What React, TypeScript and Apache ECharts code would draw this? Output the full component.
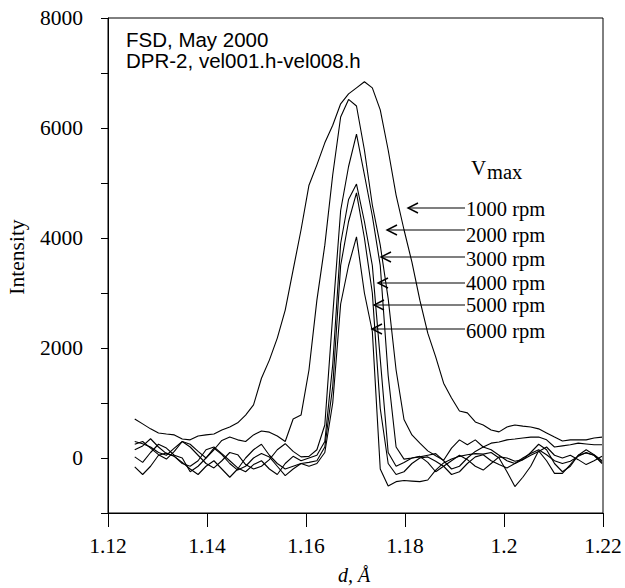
import React, { useEffect, useRef } from "react";
import * as echarts from "echarts";

// d-spacing grid (Å)
const dSpacing = [
  1.1254, 1.127, 1.1286, 1.1302, 1.1318, 1.1334, 1.135, 1.1366, 1.1382, 1.1398,
  1.1414, 1.143, 1.1446, 1.1462, 1.1478, 1.1494, 1.151, 1.1526, 1.1542, 1.1558,
  1.1574, 1.159, 1.1606, 1.1622, 1.1638, 1.1654, 1.167, 1.1686, 1.1702, 1.1718,
  1.1734, 1.175, 1.1766, 1.1782, 1.1798, 1.1814, 1.183, 1.1846, 1.1862, 1.1878,
  1.1894, 1.191, 1.1926, 1.1942, 1.1958, 1.1974, 1.199, 1.2006, 1.2022, 1.2038,
  1.2054, 1.207, 1.2086, 1.2102, 1.2118, 1.2134, 1.215, 1.2166, 1.2182, 1.2198,
];

const intensity1000 = [
  710, 620, 530, 455, 435, 420, 345, 330, 400, 420,
  435, 510, 565, 640, 780, 965, 1450, 1780, 2180, 2690,
  3420, 4150, 4960, 5330, 5730, 6050, 6440, 6620, 6730, 6840,
  6730, 6330, 5600, 4780, 4150, 3560, 2870, 2270, 1840, 1360,
  1090, 855, 820, 655, 600, 510, 475, 565, 600, 580,
  565, 530, 455, 380, 310, 330, 330, 330, 365, 380,
];
const intensity2000 = [
  300, 260, 200, 100, 50, 180, 300, 250, 120, 0,
  150, 320, 380, 330, 300, 420, 490, 470, 400, 300,
  710, 780, 1600, 2870, 3870, 5150, 6200, 6520, 6400, 5600,
  4600, 3870, 2900, 1600, 700, 420, 270, 130, 40, -40,
  180, 330, 240, 330, 200, 270, 290, 330, 345, 365,
  380, 380, 330, 200, 220, 240, 270, 255, 240, 240,
];
const intensity3000 = [
  250, 300, 180, 60, -20, 120, 300, 200, 50, -100,
  -180, -50, 100, 60, -120, -200, -150, -30, 150, 260,
  120, 20, 30, 150, 600, 2600, 4500, 5300, 5890, 5150,
  4400, 3500, 1500, 200, -20, 0, 30, -80, -250, -150,
  -50, 50, -30, -150, -220, -100, 20, 0, -60, -30,
  100, 250, 150, -100, -250, -150, 50, 150, 60, -50,
];
const intensity4000 = [
  150, 220, 350, 200, 80, 30, -100, -150, -50, 150,
  200, 80, -50, -180, -250, -120, -50, -200, -300, -100,
  30, -50, 0, 50, 300, 1700, 3900, 4700, 4980, 4300,
  3500, 1800, 100, -150, -80, 0, 20, 50, 80, -50,
  -200, -150, 0, 120, 200, 150, 50, -50, -100, -30,
  50, 120, 200, 50, 0, 50, -30, -120, -50, 30,
];
const intensity5000 = [
  20, -80, 100, 250, 180, 50, 0, -250, -150, 0,
  180, 60, -100, -220, -150, 0, 80, 20, -150, -320,
  -200, -100, -80, -50, 200, 1300, 3500, 4300, 4820, 4000,
  3000, 900, -100, -300, -250, -100, 0, 20, -60, -150,
  -300, -250, -100, 20, 60, -50, -120, -180, -100, 0,
  80, 150, 60, -50, -100, -60, 30, 100, 50, -80,
];
const intensity6000 = [
  -160, -300, -150, 50, 90, 30, -80, -200, -300, -150,
  -50, -200, -350, -200, 0, 150, 250, 50, -100, -200,
  -150, -100, -150, -100, 100, 1000, 2800, 3500, 4020, 3000,
  2300, -200, -510, -430, -410, -420, -430, -400, -220, -90,
  -20, 30, 60, 80, 70, 100, 0, -250, -520, -350,
  -150, 130, -50, -280, -280, -120, 50, 90, 50, -100,
];

const seriesNames = ["1000 rpm", "2000 rpm", "3000 rpm", "4000 rpm", "5000 rpm", "6000 rpm"];
const seriesValues = [intensity1000, intensity2000, intensity3000, intensity4000, intensity5000, intensity6000];
const yTickLabels = [0, 2000, 4000, 6000, 8000];
const xTickLabels = [1.12, 1.14, 1.16, 1.18, 1.2, 1.22];

const SERIF = "'Liberation Serif', 'Times New Roman', serif";
const SANS = "'Liberation Sans', Arial, sans-serif";

export default function App() {
  const ref = useRef<HTMLDivElement>(null);

  useEffect(() => {
    if (!ref.current) return;
    const chart = echarts.init(ref.current, null, { renderer: "svg" });

    const arrowTipX = [408, 387, 381, 378, 374, 372];
    const arrowY = [208, 230, 257, 283, 305, 329];
    const labelY = [209, 235, 259, 283, 305, 331];
    const labelX = 466;

    const graphics: any[] = [
      {
        type: "text",
        x: 126,
        y: 39,
        style: { text: "FSD, May 2000", font: `20.5px ${SANS}`, fill: "#000", verticalAlign: "middle" },
      },
      {
        type: "text",
        x: 126,
        y: 60,
        style: { text: "DPR-2, vel001.h-vel008.h", font: `20.5px ${SANS}`, fill: "#000", verticalAlign: "middle" },
      },
      {
        type: "text",
        x: 471,
        y: 168,
        style: { text: "V", font: `21px ${SERIF}`, fill: "#000", verticalAlign: "middle" },
      },
      {
        type: "text",
        x: 487,
        y: 172,
        style: { text: "max", font: `20.5px ${SERIF}`, fill: "#000", verticalAlign: "middle" },
      },
      {
        type: "text",
        x: 17,
        y: 257,
        rotation: Math.PI / 2,
        style: { text: "Intensity", font: `21.5px ${SERIF}`, fill: "#000", align: "center", verticalAlign: "middle" },
      },
      {
        type: "text",
        x: 354,
        y: 575,
        style: { text: "d, Å", font: `italic 20px ${SERIF}`, fill: "#000", align: "center", verticalAlign: "middle" },
      },
    ];

    seriesNames.forEach((name, k) => {
      graphics.push({
        type: "text",
        x: labelX,
        y: labelY[k],
        style: { text: name, font: `20.5px ${SERIF}`, fill: "#000", verticalAlign: "middle" },
      });
      graphics.push({
        type: "line",
        shape: { x1: labelX - 1, y1: arrowY[k], x2: arrowTipX[k], y2: arrowY[k] },
        style: { stroke: "#000", lineWidth: 1.2 },
      });
      graphics.push({
        type: "polyline",
        shape: {
          points: [
            [arrowTipX[k] + 10, arrowY[k] - 5],
            [arrowTipX[k], arrowY[k]],
            [arrowTipX[k] + 10, arrowY[k] + 5],
          ],
        },
        style: { stroke: "#000", lineWidth: 1.4, fill: "none" },
      });
    });

    chart.setOption({
      animation: false,
      backgroundColor: "#fff",
      grid: {
        left: 108,
        right: 22,
        top: 18,
        bottom: 75,
        show: true,
        borderColor: "#000",
        borderWidth: 1,
      },
      xAxis: {
        type: "value",
        min: 1.12,
        max: 1.22,
        interval: 0.02,
        axisLine: { show: true, onZero: false, lineStyle: { color: "#000", width: 1 } },
        axisTick: { show: true, inside: false, length: 14, lineStyle: { color: "#000" } },
        axisLabel: {
          color: "#000",
          fontFamily: SERIF,
          fontSize: 21.5,
          margin: 22,
          formatter: (v: number) => {
            const r = Math.round(v * 100) / 100;
            return xTickLabels.some((t) => Math.abs(t - r) < 1e-9) ? String(r) : "";
          },
        },
        splitLine: { show: false },
      },
      yAxis: {
        type: "value",
        min: -1000,
        max: 8000,
        interval: 1000,
        axisLine: { show: true, lineStyle: { color: "#000", width: 1 } },
        axisTick: { show: true, inside: false, length: 7, lineStyle: { color: "#000" } },
        axisLabel: {
          color: "#000",
          fontFamily: SERIF,
          fontSize: 21.5,
          margin: 25,
          formatter: (v: number) => (yTickLabels.includes(Math.round(v)) ? String(Math.round(v)) : ""),
        },
        splitLine: { show: false },
      },
      series: seriesValues.map((vals, k) => ({
        name: seriesNames[k],
        type: "line",
        showSymbol: false,
        silent: true,
        data: dSpacing.map((d, i) => [d, vals[i]]),
        lineStyle: { color: "#000", width: 1.1 },
      })),
      graphic: graphics,
    });

    return () => chart.dispose();
  }, []);

  return <div ref={ref} style={{ position: "absolute", left: 0, top: 0, width: 625, height: 588 }} />;
}
